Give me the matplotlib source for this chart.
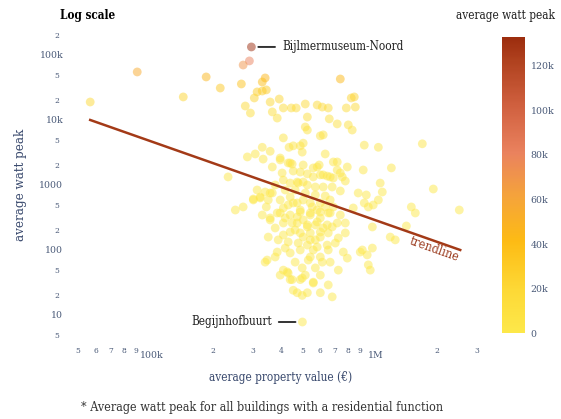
import numpy as np
import matplotlib
matplotlib.use('Agg')
import matplotlib.pyplot as plt
from matplotlib.colors import LinearSegmentedColormap, Normalize
from matplotlib.ticker import FixedLocator, FuncFormatter
from matplotlib.transforms import ScaledTranslation

# average property value (k EUR) and average watt peak per neighbourhood
property_k = [56.5, 91.6, 147, 186, 215, 267, 296, 290, 272, 341, 331, 314, 331, 345, 305,
              359, 394, 278, 293, 446, 469, 515, 582, 613, 652, 738, 785, 826, 852, 861,
              367, 386, 411, 526, 659, 715, 515, 526, 601, 619, 801, 834, 411, 944, 1091,
              1714, 331, 359, 436, 455, 489, 504, 499, 308, 284, 334, 398, 367, 432, 450,
              504, 559, 594, 632, 715, 793, 715, 934, 233, 406, 455, 489, 526, 559, 601,
              645, 687, 738, 411, 474, 504, 1247, 753, 777, 1112, 1919, 738, 1136, 887, 964,
              1091, 944, 984, 1035, 1531, 1595, 2506, 843, 1455, 1233, 1298, 1026, 925, 1026, 984,
              1004, 793, 761, 723, 665, 601, 652, 679, 559, 601, 526, 474, 455, 489, 441,
              428, 411, 398, 352, 341, 251, 272, 302, 324, 359, 345, 359, 398, 411, 432,
              474, 504, 489, 474, 450, 504, 542, 582, 601, 652, 687, 526, 571, 619, 679,
              715, 777, 777, 504, 542, 601, 479, 526, 582, 645, 701, 432, 419, 441, 386,
              378, 348, 542, 531, 601, 652, 906, 973, 432, 450, 499, 515, 559, 499, 500,
              398, 441, 582, 687, 619, 665, 441, 479, 526, 571, 619, 679, 314, 341, 367,
              302, 324, 352, 455, 542, 601, 665, 386, 441, 489, 542, 601, 665, 359, 411,
              474, 526, 582, 645, 441, 489, 542, 601, 652, 411,
              378, 419, 464, 515, 571, 632, 398, 441, 553, 632, 419, 464, 571, 378, 331,
              390, 489, 559, 613, 464, 499, 571, 723, 738]
watt_peak = [18900, 54800, 22600, 45900, 31000, 35800, 132800, 81000, 70000, 44300, 38400, 27000, 27900, 29000, 21800,
             18900, 21000, 16400, 12800, 15300, 15300, 17600, 17000, 15800, 15300, 42700, 15300, 21800, 22600, 15800,
             13300, 10700, 15300, 11100, 10400, 8700, 7800, 7000, 5700, 5900, 8400, 7000, 5300, 4100, 3800,
             4300, 3800, 3300, 3800, 4000, 4000, 4400, 3200, 3000, 2700, 2500, 2430, 1890, 2180, 2100,
             2030, 1830, 2030, 3000, 2260, 1890, 1700, 1700, 1330, 1530, 1640, 1580, 1480, 1330, 1430,
             1370, 1280, 1530, 1190, 1110, 1110, 1830, 1330, 1150, 1070, 867, 809, 780, 753, 702,
             588, 529, 459, 492, 459, 371, 412, 443, 234, 158, 143, 226, 100, 107, 59,
             49, 75, 93, 49, 65, 41, 29, 19, 31, 22, 22, 22, 24, 35, 35,
             46, 49, 41, 158, 65, 412, 459, 609, 653, 753, 459, 311, 371, 443, 492,
             529, 588, 412, 322, 260, 290, 345, 412, 311, 371, 459, 226, 243, 218, 226,
             260, 260, 183, 158, 143, 158, 128, 119, 111, 119, 128, 133, 107, 90, 93,
             78, 70, 78, 70, 78, 100, 93, 84, 44, 35, 37, 41, 32, 20, 7.8,
             2600, 2180, 1890, 2260, 1430, 1330, 1070, 1070, 1000, 931, 931, 931, 837, 780, 753,
             588, 631, 588, 529, 529, 529, 588, 371, 345, 384, 371, 384, 371, 290, 260,
             260, 243, 270, 243, 189, 183, 183, 189, 183, 170,
             1000, 837, 837, 753, 702, 677, 588, 653, 459, 459, 311, 203, 143, 218, 345,
             143, 100, 100, 65, 65, 53, 53, 153, 345]

# trendline end points (k EUR, watt peak)
trend_k = [56.5, 2530]
trend_wp = [10000, 100]

cbar_ticks = [0, 20000, 40000, 60000, 80000, 100000, 120000]
cbar_labels = ['0', '20k', '40k', '60k', '80k', '100k', '120k']

plt.rcParams['font.family'] = ['DejaVu Serif']
plt.rcParams['font.stretch'] = 'condensed'
slate = '#4a5a78'

x = np.array(property_k) * 1000
y = np.array(watt_peak, dtype=float)

cmap = LinearSegmentedColormap.from_list('wp', [
    (0.0, '#fde84a'), (0.15, '#fdd835'), (0.31, '#fdbb14'), (0.46, '#f5a43a'),
    (0.61, '#ea825e'), (0.77, '#d0603f'), (0.92, '#b0421f'), (1.0, '#9c2d0e')])
norm = Normalize(0, y.max())

fig = plt.figure(figsize=(5.61, 4.19), dpi=100)
ax = fig.add_axes([0.125, 0.1885, 0.749, 0.74])

ax.scatter(x, y, c=y, cmap=cmap, norm=norm, s=40, alpha=0.5, linewidths=0, zorder=2)
ax.plot(np.array(trend_k) * 1000, trend_wp, color='#a33a17', lw=1.8, zorder=3)

ax.set_xscale('log')
ax.set_yscale('log')
ax.set_xlim(45970, 3447000)
ax.set_ylim(4.12, 242500)

for s in ax.spines.values():
    s.set_visible(False)


def decade_label(v):
    if v >= 1e6:
        return '%dM' % round(v / 1e6)
    if v >= 1e4:
        return '%dk' % round(v / 1e3)
    return '%d' % round(v)


def mantissa(v):
    return '%d' % round(v / 10 ** np.floor(np.log10(v) + 1e-9))


# x axis: decades plus every minor step
ax.xaxis.set_major_locator(FixedLocator([1e5, 1e6]))
ax.xaxis.set_major_formatter(FuncFormatter(lambda v, p: decade_label(v)))
ax.xaxis.set_minor_locator(FixedLocator([m * 10 ** e for e in (4, 5, 6) for m in range(2, 10)]))
ax.xaxis.set_minor_formatter(FuncFormatter(lambda v, p: mantissa(v)))

# y axis: decades plus 2 and 5
ax.yaxis.set_major_locator(FixedLocator([10 ** e for e in range(1, 6)]))
ax.yaxis.set_major_formatter(FuncFormatter(lambda v, p: decade_label(v)))
ax.yaxis.set_minor_locator(FixedLocator([m * 10 ** e for e in range(0, 6) for m in (2, 5)]))
ax.yaxis.set_minor_formatter(FuncFormatter(lambda v, p: mantissa(v)))

ax.tick_params(which='both', length=0, colors=slate)
ax.tick_params(axis='x', which='major', labelsize=7.5, pad=8)
ax.tick_params(axis='x', which='minor', labelsize=6, pad=5)
ax.tick_params(axis='y', which='major', labelsize=7.5, pad=5)
ax.tick_params(axis='y', which='minor', labelsize=6, pad=8)

# nudge the decade labels right of their tick, clear of the 9
shift = ScaledTranslation(4 / 72, 0, fig.dpi_scale_trans)
for lab in ax.xaxis.get_majorticklabels():
    lab.set_transform(lab.get_transform() + shift)

ax.set_xlabel('average property value (€)', fontsize=8.5, color='#3a4a6e', labelpad=8)
ax.set_ylabel('average watt peak', fontsize=9.5, color='#3a4a6e', labelpad=9)

ax.text(1.94e6, 104, 'trendline', rotation=-19.5, ha='center', va='center',
        fontsize=9, color='#9b3b1e')

# named outliers
top = int(np.argmax(y))
low = int(np.argmin(y))
ax.annotate('Bijlmermuseum-Noord', xy=(x[top], y[top]), xytext=(22, 0), textcoords='offset points',
            va='center', ha='left', fontsize=8.5, color='#222222',
            arrowprops=dict(arrowstyle='-', color='#333333', lw=1.4, shrinkA=3, shrinkB=5))
ax.annotate('Begijnhofbuurt', xy=(x[low], y[low]), xytext=(-22, 0), textcoords='offset points',
            va='center', ha='right', fontsize=8.5, color='#222222',
            arrowprops=dict(arrowstyle='-', color='#333333', lw=1.4, shrinkA=3, shrinkB=5))

# colour bar
cax = fig.add_axes([0.895, 0.205, 0.041, 0.706])
cb = fig.colorbar(plt.cm.ScalarMappable(norm=norm, cmap=cmap), cax=cax)
cb.outline.set_visible(False)
cb.set_ticks(cbar_ticks)
cb.set_ticklabels(cbar_labels)
cax.tick_params(length=0, colors=slate, labelsize=7.5, pad=4)

fig.text(0.107, 0.962, 'Log scale', fontsize=8.5, fontweight='bold', va='center')
fig.text(0.99, 0.962, 'average watt peak', fontsize=8.5, ha='right', va='center', color='#222222')
fig.text(0.468, 0.028, '* Average watt peak for all buildings with a residential function',
         fontsize=9, ha='center', va='center', color='#333333')

fig.savefig('out.png', dpi=100)
